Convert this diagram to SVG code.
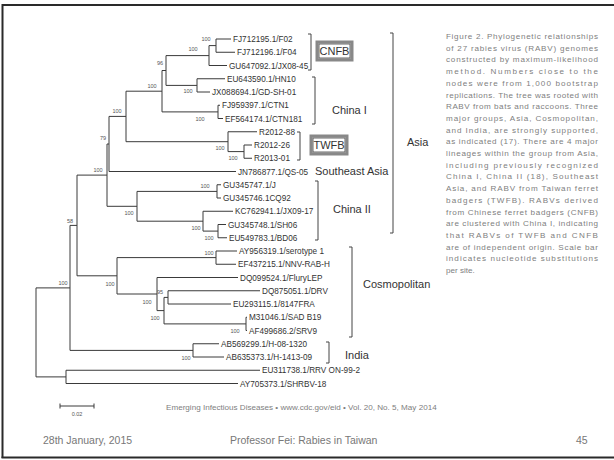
<svg xmlns="http://www.w3.org/2000/svg" width="614" height="460" viewBox="0 0 614 460">
<style>
.br{fill:none;stroke:#3a3a3a;stroke-width:1}
.bk{fill:none;stroke:#444;stroke-width:1}
.lf{font-family:"Liberation Sans",Arial,sans-serif;font-size:8.2px;fill:#333}
.bs{font-family:"Liberation Sans",Arial,sans-serif;font-size:5.5px;fill:#555;text-anchor:middle}
.gl{font-family:"Liberation Sans",Arial,sans-serif;font-size:11px;fill:#333}
.cap{font-family:"Liberation Sans",Arial,sans-serif;font-size:8.1px;fill:#808080}
.ft{font-family:"Liberation Sans",Arial,sans-serif;font-size:10.5px;fill:#777}
.box{fill:#fff;stroke:#888;stroke-width:3}
.boxi{fill:none;stroke:#444;stroke-width:0.8}
</style>
<rect width="614" height="460" fill="#fff"/>
<g id="frame" stroke="#2a2a2a" stroke-width="2" fill="none">
<path d="M2.5 5 H614"/>
<path d="M2.5 4 V458"/>
<path d="M1.5 457.5 H614"/>
</g>
<g id="connectors">
<path class="br" d="M70 287.9 H36 V376.9 H66"/>
<path class="br" d="M260 370.25 H66 V383.5 H238"/>
<path class="br" d="M77 225.4 H70 V350.4 H193"/>
<path class="br" d="M219 343.75 H193 V357 H224"/>
<path class="br" d="M107 175.1 H77 V275.8 H117"/>
<path class="br" d="M216 257.6 H117 V294 H157"/>
<path class="br" d="M237 251 H216 V264.25 H236"/>
<path class="br" d="M238 277.5 H157 V310.6 H164"/>
<path class="br" d="M168 297.4 H164 V323.9 H246"/>
<path class="br" d="M260 290.75 H168 V304 H231"/>
<path class="br" d="M247 317.25 H246 V330.5 H247"/>
<path class="br" d="M109 144 H107 V206.3 H137"/>
<path class="br" d="M126 116.4 H109 V171.5 H236"/>
<path class="br" d="M162 91.2 H126 V141.7 H228"/>
<path class="br" d="M166 70.5 H162 V111.9 H218"/>
<path class="br" d="M209 55.6 H166 V85.4 H197"/>
<path class="br" d="M216 45.6 H209 V65.5 H227"/>
<path class="br" d="M231 39 H216 V52.25 H235"/>
<path class="br" d="M225 78.75 H197 V92 H210"/>
<path class="br" d="M220 105.25 H218 V118.5 H223"/>
<path class="br" d="M257 131.75 H228 V151.6 H244"/>
<path class="br" d="M252 145 H244 V158.25 H252"/>
<path class="br" d="M217 191.4 H137 V221.2 H203"/>
<path class="br" d="M221 184.75 H217 V198 H221"/>
<path class="br" d="M233 211.25 H203 V231.1 H218"/>
<path class="br" d="M226 224.5 H218 V237.75 H227"/>
</g>
<g id="bootstrap">
<text class="bs" x="206" y="41">100</text>
<text class="bs" x="193" y="51">100</text>
<text class="bs" x="160" y="65">96</text>
<text class="bs" x="152" y="88">100</text>
<text class="bs" x="188" y="93">100</text>
<text class="bs" x="200" y="121">100</text>
<text class="bs" x="117" y="113">100</text>
<text class="bs" x="103" y="140">79</text>
<text class="bs" x="220" y="150">100</text>
<text class="bs" x="233" y="160">100</text>
<text class="bs" x="98" y="172">100</text>
<text class="bs" x="205" y="188">100</text>
<text class="bs" x="129" y="215">100</text>
<text class="bs" x="196" y="230">100</text>
<text class="bs" x="209" y="240">100</text>
<text class="bs" x="70" y="223">58</text>
<text class="bs" x="63" y="285">100</text>
<text class="bs" x="209" y="255">100</text>
<text class="bs" x="110" y="286">100</text>
<text class="bs" x="147" y="304">100</text>
<text class="bs" x="155" y="320">100</text>
<text class="bs" x="160" y="294">95</text>
<text class="bs" x="235" y="333">100</text>
<text class="bs" x="186" y="360">100</text>
</g>
<g id="leaves">
<g id="leaf1"><text class="lf" x="233" y="42">FJ712195.1/F02</text></g>
<g id="leaf2"><text class="lf" x="237" y="55.3">FJ712196.1/F04</text></g>
<g id="leaf3"><text class="lf" x="229" y="68.5">GU647092.1/JX08-45</text></g>
<g id="leaf4"><text class="lf" x="227" y="81.8">EU643590.1/HN10</text></g>
<g id="leaf5"><text class="lf" x="212" y="95">JX088694.1/GD-SH-01</text></g>
<g id="leaf6"><text class="lf" x="222" y="108.3">FJ959397.1/CTN1</text></g>
<g id="leaf7"><text class="lf" x="225" y="121.5">EF564174.1/CTN181</text></g>
<g id="leaf8"><text class="lf" x="259" y="134.8">R2012-88</text></g>
<g id="leaf9"><text class="lf" x="254" y="148">R2012-26</text></g>
<g id="leaf10"><text class="lf" x="254" y="161.3">R2013-01</text></g>
<g id="leaf11"><text class="lf" x="238" y="174.5">JN786877.1/QS-05</text></g>
<g id="leaf12"><text class="lf" x="223" y="187.8">GU345747.1/J</text></g>
<g id="leaf13"><text class="lf" x="223" y="201">GU345746.1CQ92</text></g>
<g id="leaf14"><text class="lf" x="235" y="214.3">KC762941.1/JX09-17</text></g>
<g id="leaf15"><text class="lf" x="228" y="227.5">GU345748.1/SH06</text></g>
<g id="leaf16"><text class="lf" x="229" y="240.8">EU549783.1/BD06</text></g>
<g id="leaf17"><text class="lf" x="239" y="254">AY956319.1/serotype 1</text></g>
<g id="leaf18"><text class="lf" x="238" y="267.3">EF437215.1/NNV-RAB-H</text></g>
<g id="leaf19"><text class="lf" x="240" y="280.5">DQ099524.1/FluryLEP</text></g>
<g id="leaf20"><text class="lf" x="262" y="293.8">DQ875051.1/DRV</text></g>
<g id="leaf21"><text class="lf" x="233" y="307">EU293115.1/8147FRA</text></g>
<g id="leaf22"><text class="lf" x="249" y="320.3">M31046.1/SAD B19</text></g>
<g id="leaf23"><text class="lf" x="249" y="333.5">AF499686.2/SRV9</text></g>
<g id="leaf24"><text class="lf" x="221" y="346.8">AB569299.1/H-08-1320</text></g>
<g id="leaf25"><text class="lf" x="226" y="360">AB635373.1/H-1413-09</text></g>
<g id="leaf26"><text class="lf" x="262" y="373.3">EU311738.1/RRV ON-99-2</text></g>
<g id="leaf27"><text class="lf" x="240" y="386.5">AY705373.1/SHRBV-18</text></g>
</g>
<g id="groups">
<g id="cnfb"><path class="bk" d="M308 34 H311 V70 H308"/><rect class="box" x="317" y="42" width="35" height="18"/><rect class="boxi" x="319" y="44" width="31" height="14"/><text class="gl" x="334.5" y="55" text-anchor="middle" font-size="10.5">CNFB</text></g>
<g id="chinaI"><path class="bk" d="M312 77 H315 V124 H312"/><text class="gl" x="332" y="114">China I</text></g>
<g id="twfb"><path class="bk" d="M297 132 H300 V160 H297"/><rect class="box" x="311" y="136" width="36" height="18"/><rect class="boxi" x="313" y="138" width="32" height="14"/><text class="gl" x="329" y="149" text-anchor="middle" font-size="10.5">TWFB</text></g>
<g id="sea"><text class="gl" x="315" y="175" font-size="10.5">Southeast Asia</text></g>
<g id="chinaII"><path class="bk" d="M315 181 H318 V240 H315"/><text class="gl" x="333" y="213">China II</text></g>
<g id="asia"><path class="bk" d="M390 33 H393 V233 H390"/><text class="gl" x="407" y="146">Asia</text></g>
<g id="cosmo"><path class="bk" d="M349 247 H352 V337 H349"/><text class="gl" x="363" y="288">Cosmopolitan</text></g>
<g id="india"><path class="bk" d="M326 342 H329 V363 H326"/><text class="gl" x="345" y="359">India</text></g>
</g>
<g id="scalebar">
<path class="br" d="M60 406 H94 M60 403.5 V408.5 M94 403.5 V408.5"/>
<text class="bs" x="77" y="416">0.02</text>
</g>
<g id="caption">
<text class="cap" x="446" y="39" textLength="152" lengthAdjust="spacing">Figure 2. Phylogenetic relationships</text>
<text class="cap" x="446" y="50.7" textLength="152" lengthAdjust="spacing">of 27 rabies virus (RABV) genomes</text>
<text class="cap" x="446" y="62.4" textLength="152" lengthAdjust="spacing">constructed by maximum-likelihood</text>
<text class="cap" x="446" y="74.1" textLength="152" lengthAdjust="spacing">method. Numbers close to the</text>
<text class="cap" x="446" y="85.8" textLength="152" lengthAdjust="spacing">nodes were from 1,000 bootstrap</text>
<text class="cap" x="446" y="97.5" textLength="152" lengthAdjust="spacing">replications. The tree was rooted with</text>
<text class="cap" x="446" y="109.2" textLength="152" lengthAdjust="spacing">RABV from bats and raccoons. Three</text>
<text class="cap" x="446" y="120.9" textLength="152" lengthAdjust="spacing">major groups, Asia, Cosmopolitan,</text>
<text class="cap" x="446" y="132.6" textLength="152" lengthAdjust="spacing">and India, are strongly supported,</text>
<text class="cap" x="446" y="144.3" textLength="152" lengthAdjust="spacing">as indicated (17). There are 4 major</text>
<text class="cap" x="446" y="156" textLength="152" lengthAdjust="spacing">lineages within the group from Asia,</text>
<text class="cap" x="446" y="167.7" textLength="152" lengthAdjust="spacing">including previously recognized</text>
<text class="cap" x="446" y="179.4" textLength="152" lengthAdjust="spacing">China I, China II (18), Southeast</text>
<text class="cap" x="446" y="191.1" textLength="152" lengthAdjust="spacing">Asia, and RABV from Taiwan ferret</text>
<text class="cap" x="446" y="202.8" textLength="152" lengthAdjust="spacing">badgers (TWFB). RABVs derived</text>
<text class="cap" x="446" y="214.5" textLength="152" lengthAdjust="spacing">from Chinese ferret badgers (CNFB)</text>
<text class="cap" x="446" y="226.2" textLength="152" lengthAdjust="spacing">are clustered with China I, indicating</text>
<text class="cap" x="446" y="237.9" textLength="152" lengthAdjust="spacing">that RABVs of TWFB and CNFB</text>
<text class="cap" x="446" y="249.6" textLength="152" lengthAdjust="spacing">are of independent origin. Scale bar</text>
<text class="cap" x="446" y="261.3" textLength="152" lengthAdjust="spacing">indicates nucleotide substitutions</text>
<text class="cap" x="446" y="273">per site.</text>
</g>
<g id="journal">
<text class="cap" x="166" y="410" font-size="8.3">Emerging Infectious Diseases • www.cdc.gov/eid • Vol. 20, No. 5, May 2014</text>
</g>
<g id="footer">
<text class="ft" x="43" y="444">28th January, 2015</text>
<text class="ft" x="230" y="444">Professor Fei: Rabies in Taiwan</text>
<text class="ft" x="576" y="444">45</text>
</g>
</svg>
